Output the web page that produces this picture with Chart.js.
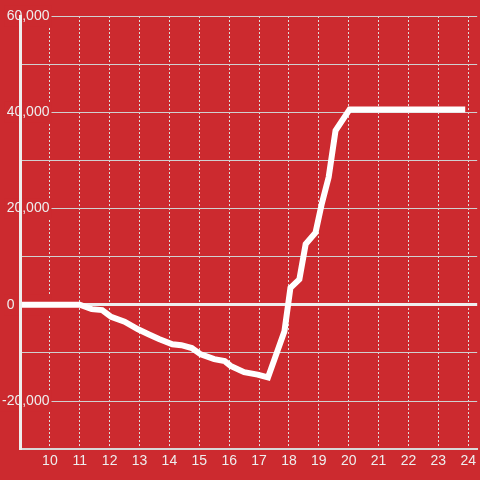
<!DOCTYPE html>
<html>
<head>
<meta charset="utf-8">
<script src="https://cdn.jsdelivr.net/npm/chart.js@4"></script>
<style>
  html, body { margin: 0; padding: 0; background: #cc2a2f; }
  #wrap { width: 480px; height: 480px; }
</style>
</head>
<body>
<div id="wrap"><canvas id="c" width="480" height="480"></canvas></div>
<script>
// Hours of day (x) and values (y)
const hours = [9, 11, 11.4, 11.75, 12.05, 12.5, 12.95, 13.3, 13.65, 14.1, 14.4, 14.75, 15.05, 15.5, 15.85, 16.05, 16.5, 16.95, 17.3, 17.85, 18.05, 18.35, 18.56, 18.89, 19.1, 19.33, 19.56, 20.03, 23.9];
const values = [0, 0, -900, -1100, -2500, -3500, -5100, -6100, -7100, -8200, -8400, -9000, -10300, -11300, -11700, -12700, -14000, -14500, -15100, -5500, 3500, 5300, 12600, 15000, 21000, 26500, 36200, 40600, 40600];
const xTicks = [10, 11, 12, 13, 14, 15, 16, 17, 18, 19, 20, 21, 22, 23, 24];
const yLabelled = [-20000, 0, 20000, 40000, 60000];

const RED = '#cc2a2f';
const points = hours.map((h, i) => ({ x: h, y: values[i] }));

const bg = {
  id: 'bg',
  beforeDraw(chart) {
    const ctx = chart.ctx;
    ctx.save();
    ctx.fillStyle = RED;
    ctx.fillRect(0, 0, chart.width, chart.height);
    ctx.restore();
  }
};

new Chart(document.getElementById('c'), {
  type: 'line',
  data: {
    datasets: [{
      data: points,
      borderColor: '#ffffff',
      borderWidth: 6,
      pointRadius: 0,
      tension: 0,
      fill: false
    }]
  },
  options: {
    responsive: false,
    animation: false,
    events: [],
    layout: { padding: { left: 20, top: 16, right: 0, bottom: 6 } },
    plugins: { legend: { display: false }, tooltip: { enabled: false } },
    scales: {
      x: {
        type: 'linear',
        min: 9,
        max: 24.3,
        afterBuildTicks(scale) { scale.ticks = xTicks.map(v => ({ value: v })); },
        grid: { color: '#dddddd', lineWidth: 1, drawTicks: false },
        border: { display: true, color: '#d8d8d8', width: 2, dash: [2, 2] },
        ticks: {
          color: '#eeeeee',
          font: { family: 'Liberation Sans, Arial, sans-serif', size: 14 },
          padding: 4,
          maxRotation: 0,
          autoSkip: false
        }
      },
      y: {
        type: 'linear',
        min: -30000,
        max: 60000,
        afterFit(scale) { scale.width = 0; },
        ticks: {
          stepSize: 10000,
          mirror: true,
          crossAlign: 'far',
          padding: -18,
          color: '#eeeeee',
          font: { family: 'Liberation Sans, Arial, sans-serif', size: 14 },
          showLabelBackdrop: (c) => yLabelled.includes(c.tick.value),
          backdropColor: RED,
          backdropPadding: 2,
          callback: (v) => {
            if (!yLabelled.includes(v)) return '';
            if (v === 0) return '0' + ' '.repeat(9);
            return v.toLocaleString('en-US');
          }
        },
        grid: {
          drawTicks: false,
          color: (c) => c.tick && c.tick.value === 0 ? '#eeeeee' : '#d0d0d0',
          lineWidth: (c) => c.tick && c.tick.value === 0 ? 3 : 1
        },
        border: { display: true, color: '#eeeeee', width: 3, z: 1 }
      }
    }
  },
  plugins: [bg]
});
</script>
</body>
</html>
